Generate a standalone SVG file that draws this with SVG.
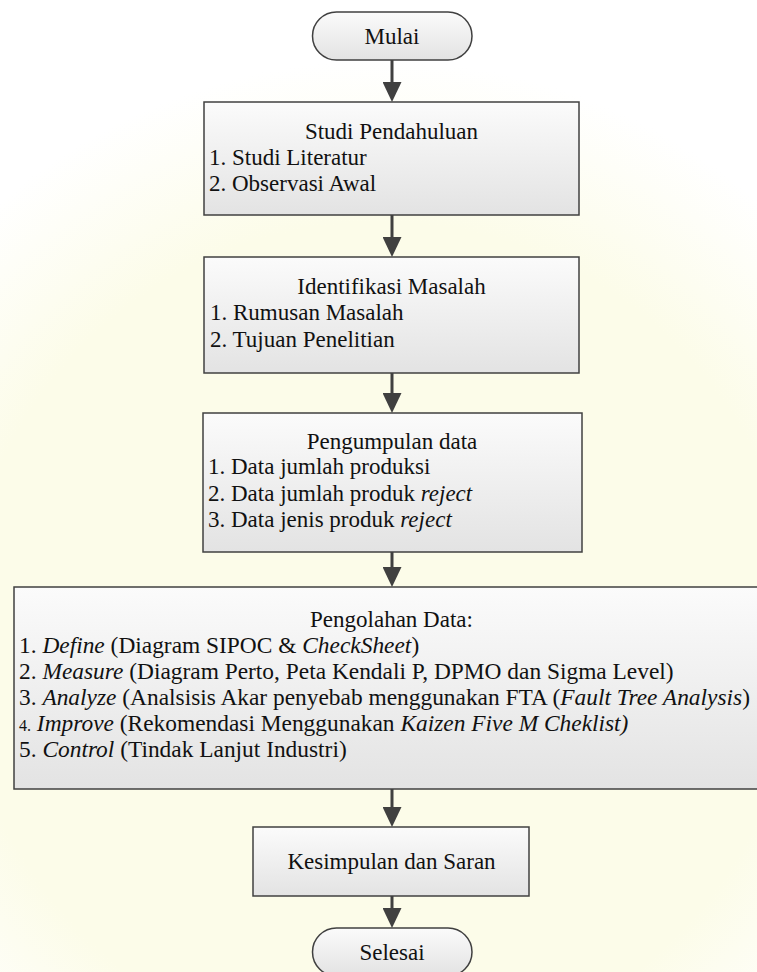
<svg xmlns="http://www.w3.org/2000/svg" width="757" height="972" viewBox="0 0 757 972">
  <defs>
    <linearGradient id="boxFill" x1="0" y1="0" x2="0" y2="1">
      <stop offset="0" stop-color="#fbfbfb"/>
      <stop offset="1" stop-color="#e3e3e3"/>
    </linearGradient>
    <radialGradient id="wm" cx="380" cy="640" r="580" gradientUnits="userSpaceOnUse">
      <stop offset="0" stop-color="#fcfce9"/>
      <stop offset="0.72" stop-color="#fcfce9"/>
      <stop offset="1" stop-color="#ffffff"/>
    </radialGradient>
    <marker id="arrow" viewBox="0 0 20 19" refX="10" refY="9.5" markerWidth="20" markerHeight="19" markerUnits="userSpaceOnUse" orient="auto">
      <path d="M0,0 L20,9.5 L0,19 z" fill="#404040"/>
    </marker>
    <style>
      .box { fill: url(#boxFill); stroke: #404040; stroke-width: 1.5; }
      .conn { stroke: #404040; stroke-width: 3; fill: none; marker-end: url(#arrow); }
      text { font-family: 'Liberation Serif', 'Times New Roman', 'DejaVu Serif', serif; font-size: 23px; fill: #111111; }
      .c { text-anchor: middle; }
      .i { font-style: italic; }
      .s { font-size: 16px; }
      .w { font-size: 23.4px; }
    </style>
  </defs>

  <rect x="0" y="0" width="757" height="972" fill="#ffffff"/>
  <rect x="0" y="0" width="757" height="972" fill="url(#wm)"/>

  <g id="connectors">
    <line class="conn" x1="392" y1="60" x2="392" y2="92"/>
    <line class="conn" x1="392" y1="215" x2="392" y2="247"/>
    <line class="conn" x1="392" y1="373" x2="392" y2="403"/>
    <line class="conn" x1="392" y1="552" x2="392" y2="577"/>
    <line class="conn" x1="392" y1="789" x2="392" y2="817"/>
    <line class="conn" x1="392" y1="896" x2="392" y2="918"/>
  </g>

  <g font-family="Liberation Serif, Times New Roman, serif">
  <g id="mulai">
    <rect class="box" x="312.5" y="12" width="159.5" height="48" rx="24" ry="24"/>
    <text class="c" x="392" y="44">Mulai</text>
  </g>

  <g id="studi-pendahuluan">
    <rect class="box" x="204" y="102" width="375" height="113"/>
    <text class="c" x="391.5" y="139">Studi Pendahuluan</text>
    <text x="209" y="165">1. Studi Literatur</text>
    <text x="209" y="191">2. Observasi Awal</text>
  </g>

  <g id="identifikasi-masalah">
    <rect class="box" x="204" y="257" width="375" height="116"/>
    <text class="c" x="391.5" y="294">Identifikasi Masalah</text>
    <text x="210" y="320">1. Rumusan Masalah</text>
    <text x="210" y="347">2. Tujuan Penelitian</text>
  </g>

  <g id="pengumpulan-data">
    <rect class="box" x="203" y="413" width="379" height="139"/>
    <text class="c" x="392" y="449">Pengumpulan data</text>
    <text x="208" y="474">1. Data jumlah produksi</text>
    <text x="208" y="501">2. Data jumlah produk <tspan class="i">reject</tspan></text>
    <text x="208" y="527">3. Data jenis produk <tspan class="i">reject</tspan></text>
  </g>

  <g id="pengolahan-data">
    <rect class="box" x="14" y="587" width="760" height="202"/>
    <text class="c" x="391.5" y="627">Pengolahan Data:</text>
    <text class="w" x="19" y="653">1. <tspan class="i">Define</tspan> (Diagram SIPOC &amp; <tspan class="i">CheckSheet</tspan>)</text>
    <text class="w" x="19" y="679">2. <tspan class="i">Measure</tspan> (Diagram Perto, Peta Kendali P, DPMO dan Sigma Level)</text>
    <text class="w" x="19" y="705">3. <tspan class="i">Analyze</tspan> (Analsisis Akar penyebab menggunakan FTA (<tspan class="i">Fault Tree Analysis</tspan>)</text>
    <text class="w" x="19" y="731"><tspan class="s">4.</tspan> <tspan class="i">Improve</tspan> (Rekomendasi Menggunakan <tspan class="i">Kaizen Five M Cheklist)</tspan></text>
    <text class="w" x="19" y="757">5. <tspan class="i">Control</tspan> (Tindak Lanjut Industri)</text>
  </g>

  <g id="kesimpulan-dan-saran">
    <rect class="box" x="253" y="827" width="276" height="69"/>
    <text class="c" x="391.5" y="869">Kesimpulan dan Saran</text>
  </g>

  <g id="selesai">
    <rect class="box" x="312.5" y="928" width="159.5" height="48" rx="24" ry="24"/>
    <text class="c" x="392" y="960">Selesai</text>
  </g>
  </g>
</svg>
